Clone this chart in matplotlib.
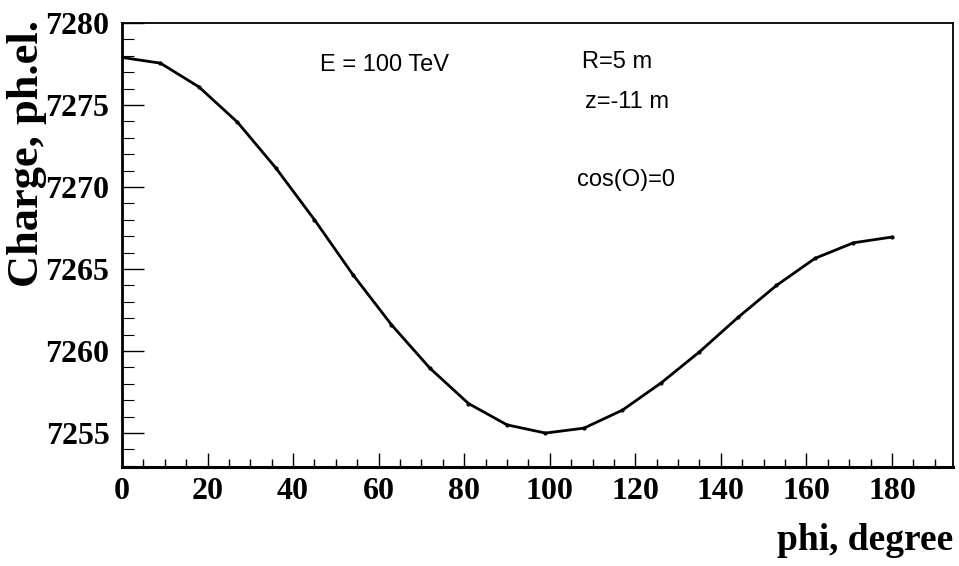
import matplotlib
matplotlib.use("Agg")
import matplotlib.pyplot as plt
from matplotlib.ticker import MultipleLocator

phi = [0, 9, 18, 27, 36, 45, 54, 63, 72, 81, 90, 99, 108, 117, 126, 135, 144, 153, 162, 171, 180]
charge = [7277.9, 7277.55, 7276.1, 7273.95, 7271.15, 7268.0, 7264.65, 7261.6, 7258.95, 7256.8,
          7255.5, 7255.0, 7255.3, 7256.4, 7258.05, 7259.95, 7262.05, 7264.0, 7265.65, 7266.6, 7266.95]

x_label = "phi, degree"
y_label = "Charge, ph.el."
annotations = ["E = 100 TeV", "R=5 m", "z=-11 m", "cos(O)=0"]

serif = ["Liberation Serif", "DejaVu Serif"]
sans = ["Liberation Sans", "DejaVu Sans"]

fig = plt.figure(figsize=(9.59, 5.66), dpi=100)
ax = fig.add_axes([0.1272, 0.1749, 0.9937 - 0.1272, 0.9594 - 0.1749])

ax.plot(phi, charge, color="black", lw=2.0, marker="o", ms=2.0)

ax.set_xlim(0, 194.25)
ax.set_ylim(7252.93, 7280)

ax.xaxis.set_major_locator(MultipleLocator(20))
ax.xaxis.set_minor_locator(MultipleLocator(5))
ax.yaxis.set_major_locator(MultipleLocator(5))
ax.yaxis.set_minor_locator(MultipleLocator(1))

ax.tick_params(axis="x", which="major", direction="in", length=10, width=1.0, pad=7,
               top=False, bottom=True)
ax.tick_params(axis="x", which="minor", direction="in", length=5.5, width=1.0, top=False)
ax.tick_params(axis="y", which="major", direction="in", length=16, width=1.0, pad=9,
               right=False, left=True)
ax.tick_params(axis="y", which="minor", direction="in", length=8.5, width=0.8, right=False)

for lab in ax.get_xticklabels() + ax.get_yticklabels():
    lab.set_fontfamily(serif)
    lab.set_fontweight("bold")
    lab.set_fontsize(23)

for s in ax.spines.values():
    s.set_linewidth(1.3)
    s.set_color("black")
ax.spines["left"].set_linewidth(2.0)
ax.spines["bottom"].set_linewidth(2.2)

fig.text(953 / 959, 1 - 540 / 566, x_label, ha="right", va="center",
         fontfamily=serif, fontweight="bold", fontsize=27)
fig.text(27 / 959, 1 - 154 / 566, y_label, ha="center", va="center", rotation=90,
         fontfamily=serif, fontweight="bold", fontsize=32)

pos = [(0.238, 0.905), (0.554, 0.912), (0.557, 0.822), (0.548, 0.646)]
for t, (xf, yf) in zip(annotations, pos):
    ax.text(xf, yf, t, transform=ax.transAxes, ha="left", va="center",
            fontfamily=sans, fontsize=17)

fig.savefig("out.png", dpi=100)
